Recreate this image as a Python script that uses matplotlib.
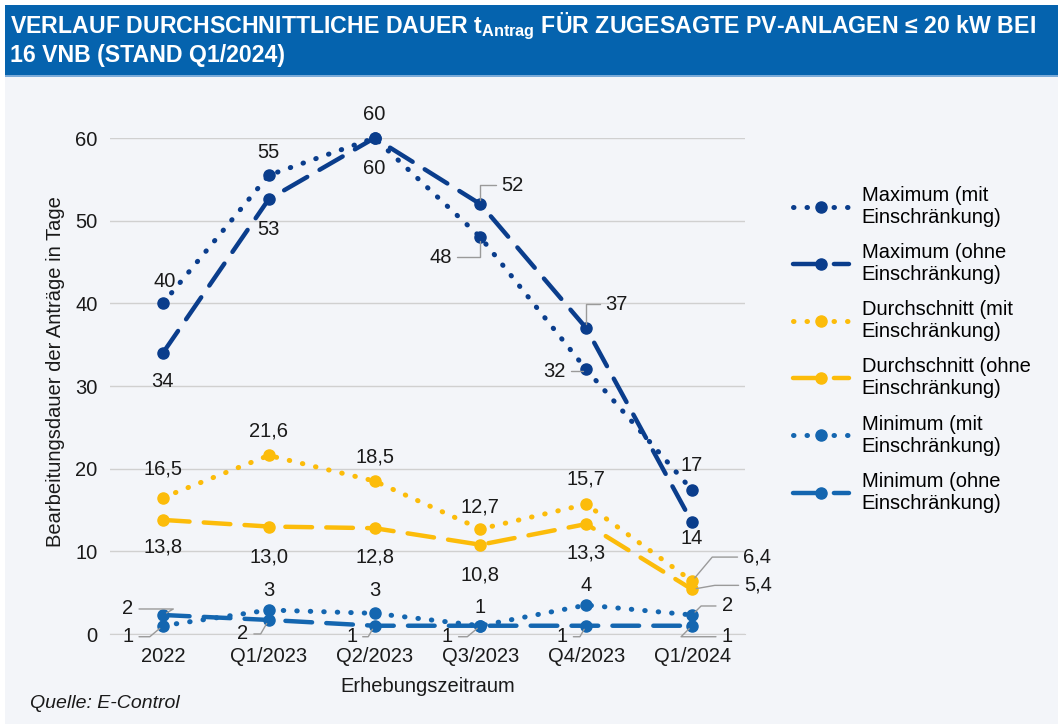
import matplotlib
matplotlib.use('Agg')
import matplotlib.pyplot as plt
from matplotlib.patches import Rectangle

categories = ['2022', 'Q1/2023', 'Q2/2023', 'Q3/2023', 'Q4/2023', 'Q1/2024']

max_mit = [40, 55.5, 60, 48, 32, 17.4]
max_ohne = [34, 52.6, 60, 52, 37, 13.5]
avg_mit = [16.5, 21.6, 18.5, 12.7, 15.7, 6.4]
avg_ohne = [13.8, 13.0, 12.8, 10.8, 13.3, 5.4]
min_mit = [1.0, 2.9, 2.5, 1.0, 3.5, 2.3]
min_ohne = [2.3, 1.7, 1.0, 1.0, 1.0, 1.0]

max_mit_lbl = ['40', '55', '60', '48', '32', '17']
max_ohne_lbl = ['34', '53', '60', '52', '37', '14']
avg_mit_lbl = ['16,5', '21,6', '18,5', '12,7', '15,7', '6,4']
avg_ohne_lbl = ['13,8', '13,0', '12,8', '10,8', '13,3', '5,4']
min_mit_lbl = ['1', '3', '3', '1', '4', '2']
min_ohne_lbl = ['2', '2', '1', '1', '1', '1']

names = ['Maximum (mit\nEinschränkung)', 'Maximum (ohne\nEinschränkung)',
         'Durchschnitt (mit\nEinschränkung)', 'Durchschnitt (ohne\nEinschränkung)',
         'Minimum (mit\nEinschränkung)', 'Minimum (ohne\nEinschränkung)']

navy = '#0a3d8c'
gold = '#fcbc0a'
blue = '#1466b0'
bg = '#f3f5f9'

plt.rcParams['font.family'] = ['Liberation Sans', 'DejaVu Sans']
plt.rcParams['mathtext.fontset'] = 'custom'
plt.rcParams['mathtext.bf'] = 'Liberation Sans:bold'
plt.rcParams['mathtext.rm'] = 'Liberation Sans:bold'

fig = plt.figure(figsize=(10.58, 7.24), dpi=100)
fig.patch.set_facecolor('white')
W, H = 1058, 724

# background + title bar
for y0, h, c in [(0, 1 - 75 / H, bg), (1 - 75 / H, 70 / H, '#0563ae'),
                 (1 - 77 / H, 2 / H, '#7aaad8')]:
    fig.patches.append(Rectangle((5 / W, y0), 1, h, transform=fig.transFigure,
                                 facecolor=c, edgecolor='none', zorder=-10))
fig.text(10 / W, 1 - 33 / H,
         r'VERLAUF DURCHSCHNITTLICHE DAUER t$_{\mathbf{Antrag}}$ FÜR ZUGESAGTE PV-ANLAGEN ≤ 20 kW BEI',
         color='white', fontsize=16.7, fontweight='bold', va='baseline')
fig.text(10 / W, 1 - 62 / H, '16 VNB (STAND Q1/2024)',
         color='white', fontsize=16.7, fontweight='bold', va='baseline')

ax = fig.add_axes([110 / W, 1 - 634 / H, 635 / W, 496 / H])
ax.set_facecolor(bg)
x = list(range(len(categories)))

dot = (0, (0.1, 2.6))
dash = (0, (6, 3.2))
series = [
    (max_mit, navy, dot, max_mit_lbl),
    (max_ohne, navy, dash, max_ohne_lbl),
    (avg_mit, gold, dot, avg_mit_lbl),
    (avg_ohne, gold, dash, avg_ohne_lbl),
    (min_mit, blue, dot, min_mit_lbl),
    (min_ohne, blue, dash, min_ohne_lbl),
]

# label offsets in pixels; last item = leader end angle (None -> no leader)
offsets = [
    [(2, 22, None), (0, 23, None), (0, 24, None), (-40, -20, 90), (-32, -2, 60), (0, 25, None)],
    [(0, -29, None), (0, -30, None), (0, -30, None), (32, 19, 90), (30, 24, 90), (0, -16, None)],
    [(0, 29, None), (0, 24, None), (0, 24, None), (0, 22, None), (0, 25, None), (65, 24, 50)],
    [(0, -27, None), (0, -30, None), (0, -29, None), (0, -30, None), (0, -29, None), (66, 4, 10)],
    [(-35, -11, 40), (0, 20, None), (0, 23, None), (0, 18, None), (0, 20, None), (35, 9, 45)],
    [(-35, 6, 30), (-26, -14, 60), (-23, -11, 60), (-33, -11, 40), (-24, -11, 60), (35, -11, 45)],
]

for (vals, col, ls, lbls), name, offs in zip(series, names, offsets):
    lw = 3.6 if ls == dot else 3.2
    ax.plot(x, vals, color=col, linestyle=ls, lw=lw, marker='o', markersize=8,
            dash_capstyle='round', solid_capstyle='round', label=name,
            clip_on=False, zorder=3)
    for xi, v, t, (dx, dy, ang) in zip(x, vals, lbls, offs):
        kw = {}
        if ang is not None:
            kw['arrowprops'] = dict(arrowstyle='-', color='#9a9a9a', lw=1,
                                    shrinkA=2, shrinkB=3,
                                    relpos=(0, 0.5) if dx > 0 else (1, 0.5),
                                    connectionstyle='angle,angleA=0,angleB=%d,rad=0' % ang)
        ax.annotate(t, (xi, v), xytext=(dx, dy), textcoords='offset pixels',
                    ha='center', va='center', fontsize=14.5, color='#1a1a1a',
                    zorder=5, **kw)

ax.set_xlim(-0.5, 5.5)
ax.set_ylim(0, 60)
ax.set_yticks([0, 10, 20, 30, 40, 50, 60])
ax.set_xticks(x)
ax.set_xticklabels(categories)
ax.grid(axis='y', color='#d0d0d0', lw=1)
ax.set_axisbelow(True)
for s in ['top', 'right', 'left']:
    ax.spines[s].set_visible(False)
ax.spines['bottom'].set_color('#d0d0d0')
ax.tick_params(length=0, labelsize=14.5, colors='#1a1a1a', pad=9)
ax.set_ylabel('Bearbeitungsdauer der Anträge in Tage', fontsize=14.5, color='#1a1a1a', labelpad=7)
ax.yaxis.label.set_y(0.53)
ax.set_xlabel('Erhebungszeitraum', fontsize=14.5, color='#1a1a1a', labelpad=8)

fig.legend(loc='upper left', bbox_to_anchor=(785 / W, 1 - 178 / H), frameon=False,
           fontsize=14.5, handlelength=2.8, labelspacing=0.8, handletextpad=0.6,
           borderaxespad=0)

fig.text(30 / W, 1 - 703 / H, 'Quelle: E-Control', fontsize=14, style='italic',
         color='#1a1a1a', va='center')

fig.savefig('out.png', dpi=100, facecolor=fig.get_facecolor())
